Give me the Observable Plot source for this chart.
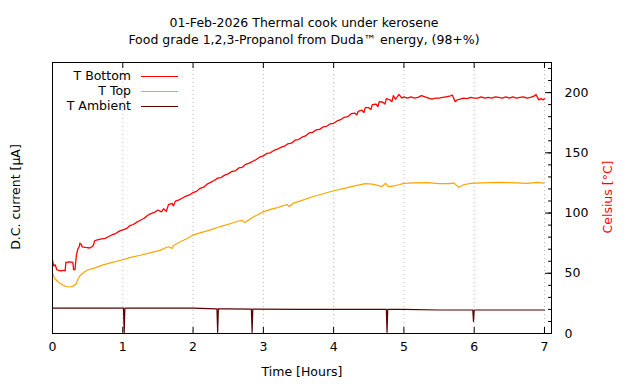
<!DOCTYPE html>
<html><head><meta charset="utf-8">
<script src="https://cdn.jsdelivr.net/npm/d3@7"></script>
<script src="https://cdn.jsdelivr.net/npm/@observablehq/plot@0.6"></script>
<style>
body{margin:0;background:#fff;font-family:"DejaVu Sans",sans-serif;}
#wrap{position:relative;width:640px;height:384px;}
#chart{position:absolute;left:0;top:0;}
#title{position:absolute;left:0;top:13.5px;width:608px;text-align:center;font-size:12.5px;line-height:17px;color:#000;}
</style></head><body>
<div id="wrap"><div id="chart"></div><div id="title">01-Feb-2026 Thermal cook under kerosene<br>Food grade 1,2,3-Propanol from Duda™ energy, (98+%)</div></div>
<script>
const titleLines = ["01-Feb-2026 Thermal cook under kerosene", "Food grade 1,2,3-Propanol from Duda™ energy, (98+%)"];
const xTicks = [0, 1, 2, 3, 4, 5, 6, 7];
const yTicks = [0, 50, 100, 150, 200];
const seriesNames = ["T Bottom", "T Top", "T Ambient"];
const seriesColors = ["#ff0000", "#ffa500", "#5a0000"];

const bottomHours = [0.00,0.01,0.02,0.04,0.05,0.06,0.08,0.12,0.16,0.18,0.19,0.24,0.29,0.30,0.32,0.33,0.34,0.36,0.38,0.39,0.41,0.42,0.47,0.53,0.56,0.58,0.60,0.65,0.70,
0.75,0.80,0.85,0.90,0.95,1.00,1.05,1.10,1.15,1.20,1.25,1.30,1.35,1.40,1.45,1.50,1.55,1.58,1.62,1.65,1.70,1.72,1.75,1.80,1.85,1.90,1.95,
2.00,2.05,2.10,2.15,2.20,2.25,2.30,2.35,2.40,2.45,2.50,2.55,2.60,2.65,2.70,2.75,2.80,2.85,2.90,2.95,
3.00,3.05,3.10,3.15,3.20,3.25,3.30,3.35,3.40,3.45,3.50,3.55,3.60,3.65,3.70,3.75,3.80,3.85,3.90,3.95,
4.00,4.05,4.10,4.15,4.20,4.25,4.30,4.33,4.35,4.40,4.43,4.45,4.50,4.53,4.55,4.60,4.63,4.65,4.70,4.73,4.75,4.80,4.83,4.85,4.88,4.90,4.93,4.97,
5.00,5.05,5.10,5.15,5.20,5.25,5.30,5.35,5.40,5.45,5.50,5.55,5.60,5.65,5.69,5.71,5.73,5.76,5.80,5.85,5.90,5.95,
6.00,6.05,6.10,6.15,6.20,6.25,6.30,6.35,6.40,6.45,6.50,6.55,6.60,6.65,6.70,6.75,6.80,6.85,6.88,6.90,6.92,6.95,6.98,7.00];
const bottomTemp = [61,58,56,57,55,53,52.5,52,52.5,52,59,59.5,59,53,53,59,65,70,72,75,74,72,71.5,71,72,73,77,78,78.5,
79,80.5,82,83,85,86,87,89.5,90.5,92.5,94,95.5,98,99.5,100.5,102.5,101,103.5,101.5,107,108,106,110,111,112.5,114,115,
117,118,120.5,121.5,124,125.5,127,129,129.5,131.5,132.5,134.5,135,137.5,138,140.5,141.5,143,144.5,146.5,
147.5,149.5,150,152,153,154.5,155.5,157.5,158,160.5,161,163,164,166.5,167,169,169.5,171.5,172,174,
174.5,176.5,177.5,179.5,180,182.5,183,181.5,184.5,185.5,183.5,187.5,187.5,186,190,190.5,188.5,192.5,192,190.5,195,194,192.5,197.5,194.5,196,198.5,195.5,
196.5,195.5,196.5,195.5,196,197.5,196.5,195.5,194.5,195.5,195.5,196,196.5,197,198,195,192.5,194,194.5,195.5,195,196,
195.5,195.5,196.5,195.5,196,195.5,196.5,196,195.5,196.5,195.5,196.5,195.5,196,196.5,195.5,196,197,198.5,196,194,195,194,195];

const topHours = [0.00,0.03,0.06,0.10,0.15,0.20,0.25,0.30,0.34,0.36,0.39,0.44,0.49,0.60,0.72,0.85,0.99,1.10,1.25,1.44,1.53,1.60,1.65,1.70,1.72,1.80,1.90,
2.00,2.10,2.25,2.40,2.55,2.62,2.70,2.73,2.77,2.85,3.00,3.10,3.20,3.30,3.34,3.37,3.42,3.55,3.70,3.85,
4.00,4.15,4.30,4.45,4.55,4.62,4.69,4.74,4.78,4.86,4.93,5.00,5.15,5.33,5.50,5.66,5.71,5.75,5.78,5.85,5.95,6.10,6.37,6.60,6.75,6.90,6.99];
const topTemp = [50,46,44,42,40,39,38.6,39.5,41.5,45,48,50.5,52.5,54.5,57,59,61,63,65,67.8,69,71,72,70.5,73,75.5,78.5,
81.7,83.5,86,89,91.5,93,94,92,93.5,96.5,101,103,104.5,106.5,107,105.5,108,110.5,113.5,116,
118.5,120.5,122.5,124.5,124,123,122,124.7,122,122.5,123.5,124.7,125,125.3,124.5,124.5,125,123,121.4,123.5,124.7,125,125.5,125,124.7,125.5,124.8];

const ambientHours = [0,0.5,1.01,1.02,1.03,1.5,2.0,2.34,2.35,2.36,2.5,2.83,2.84,2.85,3.5,4.0,4.75,4.76,4.77,5.0,5.5,5.98,5.99,6.00,6.5,7.0];
const ambientTemp = [21,21,21,1,21,21,21,20.5,1,20.5,20.5,20.3,1,20.3,20,20,20,1,20,20,19.5,19.5,10,19.5,19.5,19.5];

const toRows = (hs, ts) => hs.map((h, i) => ({h, t: ts[i]}));
const bottom = toRows(bottomHours, bottomTemp);
const top_ = toRows(topHours, topTemp);
const ambient = toRows(ambientHours, ambientTemp);

const W = 640, H = 384, mL = 52, mR = 89, mT = 62, mB = 51;
const innerW = W - mL - mR, innerH = H - mT - mB;
const minorY = d3.range(10, 225, 10);
const font = '"DejaVu Sans", sans-serif';

const chart = Plot.plot({
  width: W, height: H,
  marginLeft: mL, marginRight: mR, marginTop: mT, marginBottom: mB,
  style: {fontFamily: font, fontSize: "12.5px", color: "#000", background: "#fff"},
  x: {domain: [0, 7.1]},
  y: {domain: [0, 225]},
  marks: [
    Plot.ruleX(xTicks.slice(1), {stroke: "#b8b8b8", strokeDasharray: "1,3", strokeWidth: 1}),
    Plot.line(ambient, {x: "h", y: "t", stroke: seriesColors[2], strokeWidth: 1.2}),
    Plot.line(top_, {x: "h", y: "t", stroke: seriesColors[1], strokeWidth: 1.2}),
    Plot.line(bottom, {x: "h", y: "t", stroke: seriesColors[0], strokeWidth: 1.3}),
    Plot.tickX(xTicks, {x: d => d, insetTop: innerH - 6, stroke: "#000"}),
    Plot.tickX(xTicks, {x: d => d, insetBottom: innerH - 6, stroke: "#000"}),
    Plot.tickY(minorY, {y: d => d, insetLeft: innerW - 3, stroke: "#000"}),
    Plot.tickY(yTicks, {y: d => d, insetLeft: innerW - 6, stroke: "#000"}),
    Plot.axisX(xTicks, {anchor: "bottom", tickSize: 0, tickPadding: 9, label: null, tickFormat: d => String(d)}),
    Plot.axisY(yTicks, {anchor: "right", tickSize: 0, tickPadding: 13, textAnchor: "start", label: null}),
    Plot.frame({stroke: "#000", strokeWidth: 1})
  ]
});
document.getElementById("chart").appendChild(chart);

const svg = d3.select(chart);
const g = svg.append("g").attr("font-family", font).attr("font-size", "12.5px");
g.append("text").attr("x", 302).attr("y", 372).attr("text-anchor", "middle").attr("dominant-baseline", "middle").text("Time [Hours]");
g.append("text").attr("transform", "translate(16,197) rotate(-90)").attr("text-anchor", "middle").attr("dominant-baseline", "middle").text("D.C. current [µA]");
g.append("text").attr("transform", "translate(608,197) rotate(-90)").attr("text-anchor", "middle").attr("dominant-baseline", "middle").attr("fill", "#ff0000").text("Celsius [°C]");
seriesNames.forEach((name, i) => {
  const y = 76.5 + i * 15;
  g.append("text").attr("x", 131).attr("y", y).attr("text-anchor", "end").attr("dominant-baseline", "middle").text(name);
  g.append("line").attr("x1", 141).attr("x2", 178).attr("y1", y).attr("y2", y).attr("stroke", seriesColors[i]).attr("stroke-width", 1.1);
});
</script>
</body></html>
